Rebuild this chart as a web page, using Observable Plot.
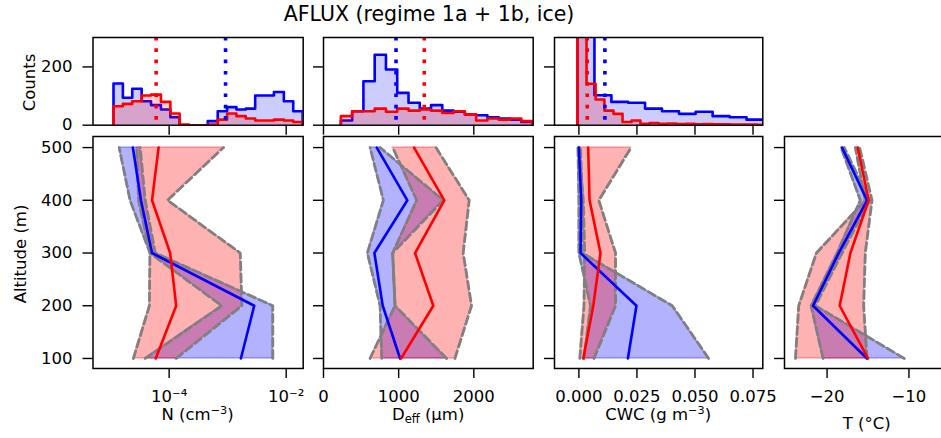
<!DOCTYPE html>
<html><head><meta charset="utf-8">
<script src="https://cdn.jsdelivr.net/npm/d3@7"></script>
<script src="https://cdn.jsdelivr.net/npm/@observablehq/plot@0.6"></script>
<style>
body{margin:0;background:#fff;}
#chart{position:relative;width:941px;height:438px;overflow:hidden;background:#fff;font-family:"DejaVu Sans",sans-serif;}
#chart svg.panel{position:absolute;}
</style></head><body><div id="chart"></div>
<script>
// ---------------- DATA ----------------
const altitude = [100, 200, 300, 400, 500];

// N (cm^-3)
const N_blue_med = [1.68e-3, 2.84e-3, 5.1e-5, 3.3e-5, 2.4e-5];
const N_blue_lo  = [3.9e-5, 7.9e-4, 4.7e-5, 2.15e-5, 1.40e-5];
const N_blue_hi  = [5.9e-3, 5.9e-3, 5.8e-5, 3.9e-5, 3.2e-5];
const N_red_med  = [5.9e-5, 1.32e-4, 1.04e-4, 5.1e-5, 6.6e-5];
const N_red_lo   = [2.45e-5, 4.6e-5, 4.7e-5, 3.0e-5, 2.8e-5];
const N_red_hi   = [1.32e-4, 1.75e-3, 1.64e-3, 9.4e-5, 8.5e-4];

// Deff (µm)
const D_blue_med = [1019, 788, 677, 1116, 709];
const D_blue_lo  = [775, 753, 584, 797, 620];
const D_blue_hi  = [1638, 952, 921, 1594, 753];
const D_red_med  = [1032, 1461, 1218, 1607, 1205];
const D_red_lo   = [620, 952, 921, 1240, 921];
const D_red_hi   = [1749, 1970, 1859, 1939, 1497];

// CWC (g m^-3)
const C_blue_med = [0.0211, 0.0248, 0.0007, 0.0010, 0.0000];
const C_blue_lo  = [0.0022, 0.0050, 0.0000, 0.0000, -0.0004];
const C_blue_hi  = [0.0559, 0.0402, 0.0015, 0.0015, 0.0007];
const C_red_med  = [0.0019, 0.0062, 0.0093, 0.0046, 0.0040];
const C_red_lo   = [0.0004, 0.0022, 0.0025, 0.0019, 0.0000];
const C_red_hi   = [0.0065, 0.0158, 0.0158, 0.0086, 0.0225];

// T (°C)
const T_blue_med = [-15.12, -21.71, -18.58, -15.12, -18.17];
const T_blue_lo  = [-20.49, -21.95, -18.78, -15.94, -18.29];
const T_blue_hi  = [-10.57, -21.42, -18.17, -14.80, -17.89];
const T_red_med  = [-15.00, -18.46, -17.15, -14.92, -16.26];
const T_red_lo   = [-23.86, -23.46, -21.30, -15.33, -16.55];
const T_red_hi   = [-15.12, -15.53, -15.33, -14.51, -16.02];

// Histograms (bin edges and counts)
const N_edges = [1.12e-5, 1.62e-5, 2.34e-5, 3.39e-5, 4.90e-5, 7.24e-5, 1.05e-4, 1.51e-4, 2.19e-4, 3.16e-4, 4.57e-4, 6.76e-4, 9.77e-4, 1.41e-3, 2.04e-3, 2.95e-3, 4.27e-3, 6.17e-3, 9.12e-3, 1.32e-2, 1.91e-2];
const N_blue_counts = [143, 94, 125, 82, 69, 54, 27, 0, 0, 0, 14, 48, 62, 54, 57, 102, 102, 114, 82, 48];
const N_red_counts  = [65, 73, 82, 102, 105, 80, 40, 2, 0, 0, 2, 19, 40, 31, 23, 16, 16, 19, 16, 11];
const N_centers = [9.2e-4, 6.0e-5]; // blue, red

const D_edges = [231, 381, 531, 681, 831, 981, 1131, 1281, 1431, 1581, 1731, 1881, 2031, 2181, 2331, 2481, 2631, 2781];
const D_blue_counts = [16, 48, 151, 242, 191, 111, 77, 57, 69, 50, 46, 37, 34, 27, 23, 19, 11];
const D_red_counts  = [31, 48, 48, 57, 46, 57, 50, 54, 50, 42, 48, 37, 16, 23, 19, 23, 14];
const D_centers = [965, 1341];

const C_blue_edges = [-0.0006, 0.0067, 0.0140, 0.0212, 0.0285, 0.0358, 0.0431, 0.0503, 0.0576, 0.0649, 0.0722, 0.0795, 0.0867];
const C_blue_counts = [1100, 103, 80, 77, 57, 48, 39, 46, 31, 27, 19, 37];
const C_red_edges = [-0.0006, 0.0033, 0.0072, 0.0110, 0.0149, 0.0188, 0.0227, 0.0265, 0.0304, 0.0343, 0.0382, 0.0420, 0.0459, 0.0498, 0.0537, 0.0575, 0.0614, 0.0653, 0.0691, 0.0730, 0.0769, 0.0808];
const C_red_counts  = [900, 142, 88, 50, 39, 11, 16, 5, 7, 5, 6, 4, 5, 3, 4, 3, 3, 2, 2, 2, 1];
const C_centers = [0.0112, 0.0036];

const countTicks = [0, 200];
const altTicks = [100, 200, 300, 400, 500];
const N_ticks = [1e-4, 1e-2];
const D_ticks = [0, 1000, 2000];
const C_ticks = [0, 0.025, 0.05, 0.075];
const T_ticks = [-20, -10];

// ---------------- DRAWING ----------------
const chart = document.getElementById("chart");
const BLUE = "#0000ff", RED = "#ff0000", GRAY = "#808080";
const FONT = "DejaVu Sans, sans-serif";
const FS = 16.5;
const TICK = 10;
const frames = [
  {left: 92.5, width: 210.2},
  {left: 323.3, width: 209.7},
  {left: 554.0, width: 208.3},
  {left: 784.0, width: 165.4}
];
const HIST = {top: 37.3, height: 87.7};
const PROF = {top: 136, height: 232};
const blank = () => "";

function place(svg, left, top) {
  svg.classList.add("panel");
  svg.style.left = left + "px";
  svg.style.top = top + "px";
  chart.appendChild(svg);
}

function bandMarks(lo, hi, med, color) {
  const rows = altitude.map((a, i) => ({alt: a, lo: lo[i], hi: hi[i], med: med[i]}));
  return {
    fill: Plot.areaX(rows, {y: "alt", x1: "lo", x2: "hi", fill: color, fillOpacity: 0.3, stroke: color, strokeOpacity: 0.3, strokeWidth: 1.5}),
    dash: [
      Plot.lineX(rows, {x: "lo", y: "alt", stroke: GRAY, strokeWidth: 2.8, strokeDasharray: "8,4"}),
      Plot.lineX(rows, {x: "hi", y: "alt", stroke: GRAY, strokeWidth: 2.8, strokeDasharray: "8,4"})
    ],
    med: Plot.lineX(rows, {x: "med", y: "alt", stroke: color, strokeWidth: 2.6})
  };
}

function histPts(edges, counts) {
  const pts = [{x: edges[0], y: 0}];
  counts.forEach((c, i) => pts.push({x: edges[i], y: c}));
  pts.push({x: edges[edges.length - 1], y: counts[counts.length - 1]});
  pts.push({x: edges[edges.length - 1], y: 0});
  return pts;
}

function histMarks(edges, counts, color) {
  const pts = histPts(edges, counts);
  return [
    Plot.areaY(pts, {x: "x", y: "y", curve: "step-after", fill: color, fillOpacity: 0.2, clip: true}),
    Plot.lineY(pts, {x: "x", y: "y", curve: "step-after", stroke: color, strokeWidth: 2.6, clip: true})
  ];
}

const styleObj = {background: "transparent", overflow: "visible", fontFamily: FONT, fontSize: FS + "px", color: "black"};

function profilePanel(idx, xScale, blue, red, xTicks, xFormat) {
  const f = frames[idx];
  const mL = idx === 0 ? f.left : 20, mR = 12, mT = 4, mB = 45;
  const b = bandMarks(...blue, BLUE), r = bandMarks(...red, RED);
  const svg = Plot.plot({
    width: mL + f.width + mR, height: mT + PROF.height + mB,
    marginLeft: mL, marginRight: mR, marginTop: mT, marginBottom: mB,
    x: xScale,
    y: {domain: [81, 521]},
    style: styleObj,
    marks: [
      b.fill, r.fill, ...b.dash, ...r.dash, b.med, r.med,
      Plot.axisY({ticks: altTicks, tickSize: TICK, tickPadding: 10.5, tickFormat: idx === 0 ? d3.format("d") : blank, label: null, strokeWidth: 1.4, fontSize: FS}),
      Plot.axisX({ticks: xTicks, tickSize: TICK, tickPadding: 11.3, tickFormat: xFormat, label: null, strokeWidth: 1.4, fontSize: FS}),
      Plot.frame({stroke: "black", strokeWidth: 1.5})
    ]
  });
  place(svg, f.left - mL, PROF.top - mT);
}

function histPanel(idx, xScale, blueEdges, blueCounts, redEdges, redCounts, centers, xTicks) {
  const f = frames[idx];
  const mL = idx === 0 ? f.left : 20, mR = 12, mT = 4, mB = 14;
  const svg = Plot.plot({
    width: mL + f.width + mR, height: mT + HIST.height + mB,
    marginLeft: mL, marginRight: mR, marginTop: mT, marginBottom: mB,
    x: xScale,
    y: {domain: [0, 301]},
    style: styleObj,
    marks: [
      ...histMarks(blueEdges, blueCounts, BLUE),
      ...histMarks(redEdges, redCounts, RED),
      Plot.ruleX([centers[0]], {stroke: BLUE, strokeWidth: 3.6, strokeDasharray: "3.6,7.7"}),
      Plot.ruleX([centers[1]], {stroke: RED, strokeWidth: 3.6, strokeDasharray: "3.6,7.7"}),
      Plot.axisY({ticks: countTicks, tickSize: TICK, tickPadding: 10.5, tickFormat: idx === 0 ? d3.format("d") : blank, label: null, strokeWidth: 1.4, fontSize: FS}),
      Plot.axisX({ticks: xTicks, tickSize: TICK, tickFormat: blank, label: null, strokeWidth: 1.4}),
      Plot.frame({stroke: "black", strokeWidth: 1.5})
    ]
  });
  place(svg, f.left - mL, HIST.top - mT);
}

const xN = {type: "log", domain: [5.0e-6, 1.95e-2]};
const xD = {domain: [0, 2790]};
const xC = {domain: [-0.0105, 0.0792]};
const xT = {domain: [-25.2, -5.0]};
const fmtN = d => d < 1e-3 ? "10\u207B\u2074" : "10\u207B\u00B2";

histPanel(0, xN, N_edges, N_blue_counts, N_edges, N_red_counts, N_centers, N_ticks);
histPanel(1, xD, D_edges, D_blue_counts, D_edges, D_red_counts, D_centers, D_ticks);
histPanel(2, xC, C_blue_edges, C_blue_counts, C_red_edges, C_red_counts, C_centers, C_ticks);

profilePanel(0, xN, [N_blue_lo, N_blue_hi, N_blue_med], [N_red_lo, N_red_hi, N_red_med], N_ticks, fmtN);
profilePanel(1, xD, [D_blue_lo, D_blue_hi, D_blue_med], [D_red_lo, D_red_hi, D_red_med], D_ticks, d3.format("d"));
profilePanel(2, xC, [C_blue_lo, C_blue_hi, C_blue_med], [C_red_lo, C_red_hi, C_red_med], C_ticks, d3.format(".3f"));
profilePanel(3, xT, [T_blue_lo, T_blue_hi, T_blue_med], [T_red_lo, T_red_hi, T_red_med], T_ticks, d3.format("d"));

// ---------------- TEXT OVERLAY ----------------
const ov = d3.create("svg").attr("width", 941).attr("height", 438)
  .style("position", "absolute").style("left", "0px").style("top", "0px").style("pointer-events", "none")
  .attr("font-family", FONT).attr("fill", "black");

ov.append("text").attr("x", 429).attr("y", 21).attr("text-anchor", "middle").attr("font-size", 20.5)
  .text("AFLUX (regime 1a + 1b, ice)");

ov.append("text").attr("transform", "translate(35,82.5) rotate(-90)").attr("text-anchor", "middle").attr("font-size", FS).text("Counts");
ov.append("text").attr("transform", "translate(26,254) rotate(-90)").attr("text-anchor", "middle").attr("font-size", FS).text("Altitude (m)");

function supLabel(x, y, before, sup, after) {
  const t = ov.append("text").attr("x", x).attr("y", y).attr("text-anchor", "middle").attr("font-size", FS);
  t.append("tspan").text(before);
  t.append("tspan").attr("font-size", FS * 0.68).attr("dy", -6).text(sup);
  t.append("tspan").attr("dy", 6).text(after);
}
supLabel(frames[0].left + frames[0].width / 2, 420, "N (cm", "\u22123", ")");
supLabel(frames[2].left + frames[2].width / 2, 420, "CWC (g m", "\u22123", ")");
{
  const t = ov.append("text").attr("x", frames[1].left + frames[1].width / 2).attr("y", 420).attr("text-anchor", "middle").attr("font-size", FS);
  t.append("tspan").text("D");
  t.append("tspan").attr("font-size", FS * 0.7).attr("dy", 3).text("eff");
  t.append("tspan").attr("dy", -3).text(" (\u00B5m)");
}
ov.append("text").attr("x", frames[3].left + frames[3].width / 2).attr("y", 429).attr("text-anchor", "middle").attr("font-size", FS).text("T (\u00B0C)");

chart.appendChild(ov.node());
</script></body></html>
